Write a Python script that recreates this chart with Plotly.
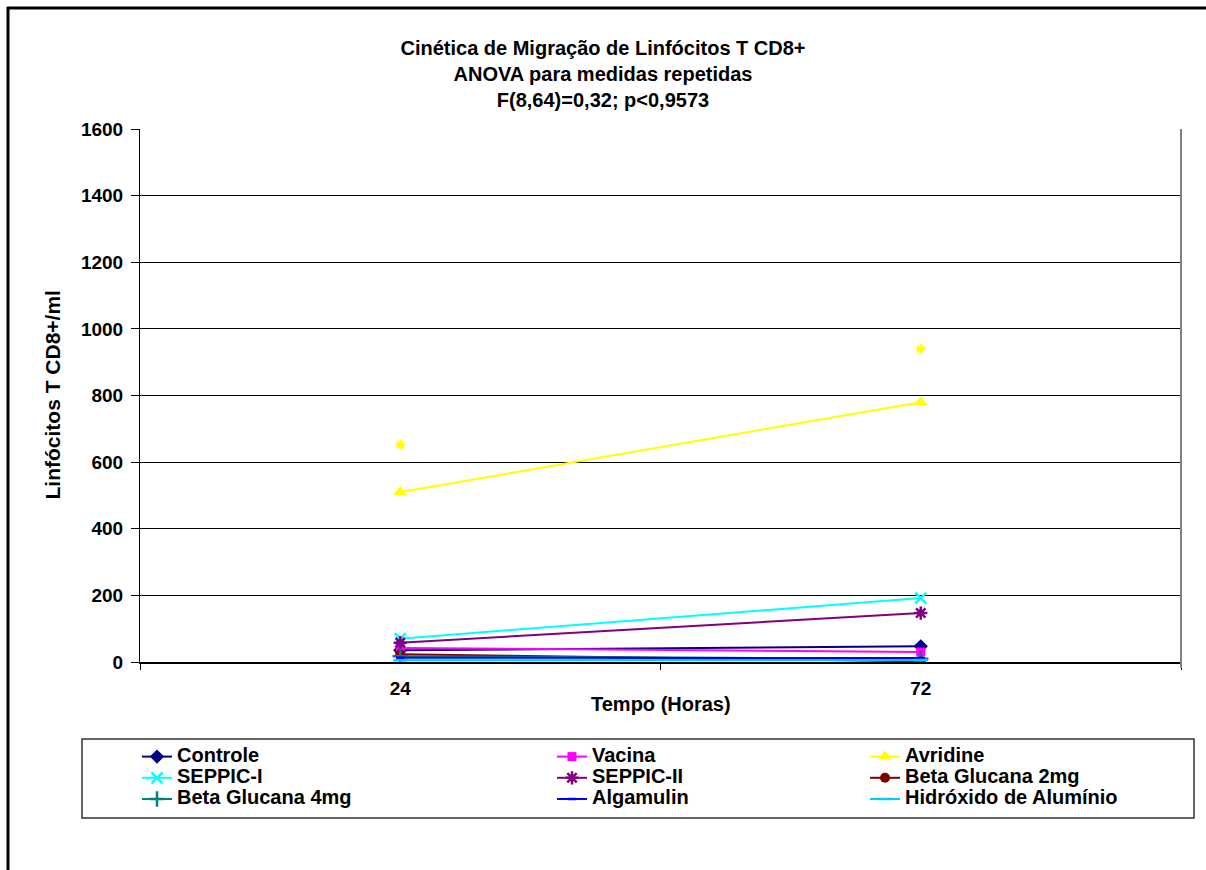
import plotly.graph_objects as go

categories = ["24", "72"]
series_names = ["Controle", "Vacina", "Avridine", "SEPPIC-I", "SEPPIC-II",
                "Beta Glucana 2mg", "Beta Glucana 4mg", "Algamulin", "Hidróxido de Alumínio"]
controle = [35, 47]
vacina = [42, 30]
avridine = [510, 780]
seppic_1 = [70, 192]
seppic_2 = [58, 147]
beta_glucana_2mg = [23, 2]
beta_glucana_4mg = [17, 10]
algamulin = [13, 12]
hidroxido = [5, 6]
avridine_stars = [652, 940]
y_ticks = [0, 200, 400, 600, 800, 1000, 1200, 1400, 1600]

values = [controle, vacina, avridine, seppic_1, seppic_2,
          beta_glucana_2mg, beta_glucana_4mg, algamulin, hidroxido]
colors = ["#000080", "#FF00FF", "#FFFF00", "#00FFFF", "#800080",
          "#800000", "#008080", "#0000FF", "#00CCFF"]
symbols = ["diamond", "square", "triangle-up", "x-thin-open", "asterisk-open",
           "circle", "cross-thin-open", "line-ew-open", "line-ew-open"]
sizes = [11, 9, 12, 11, 11, 10, 11, 6, 10]
legend_ids = ["legend", "legend2", "legend3"] * 3

FONT = "Liberation Sans, Arial, sans-serif"
W, H = 1206, 870
L, R, T, B = 140, 25, 129, 208
PW, PH = W - L - R, H - T - B


def px_x(p):
    return (p - L) / PW


def px_y(p):
    return (H - B - p) / PH


fig = go.Figure()
for name, vals, col, sym, sz, lg in zip(series_names, values, colors, symbols, sizes, legend_ids):
    open_sym = sym.endswith("-open")
    fig.add_trace(go.Scatter(
        x=categories, y=vals, mode="lines+markers",
        name='<span style="font-size:20px">' + name + '</span>',
        legend=lg,
        line=dict(color=col, width=2),
        marker=dict(symbol=sym, size=sz, color=col,
                    line=dict(color=col, width=2.5 if open_sym else 0)),
    ))

fig.add_trace(go.Scatter(
    x=categories, y=avridine_stars, mode="markers", showlegend=False,
    marker=dict(symbol="asterisk-open", size=8, color="#FFFF00",
                line=dict(color="#FFFF00", width=2)),
))

legend_common = dict(orientation="v", xanchor="left", yanchor="top",
                     bgcolor="rgba(0,0,0,0)", borderwidth=0, tracegroupgap=0,
                     font=dict(family=FONT, size=14, color="black", weight="bold"))
fig.update_layout(
    legend=dict(x=px_x(137), y=px_y(741), **legend_common),
    legend2=dict(x=px_x(552), y=px_y(741), **legend_common),
    legend3=dict(x=px_x(865), y=px_y(741), **legend_common),
)

fig.update_layout(
    width=W, height=H,
    margin=dict(l=L, r=R, t=T, b=B, autoexpand=False),
    paper_bgcolor="white", plot_bgcolor="white",
    font=dict(family=FONT, color="black"),
    title=dict(
        text="Cinética de Migração de Linfócitos T CD8+<br>ANOVA para medidas repetidas<br>F(8,64)=0,32; p<0,9573",
        x=0.5, xref="container", xanchor="center",
        y=1 - 55 / H, yref="container", yanchor="middle",
        font=dict(family=FONT, size=20, color="black", weight="bold"),
    ),
    xaxis=dict(
        type="category", range=[-0.5, 1.5], showgrid=False,
        showline=True, linecolor="black", linewidth=2,
        ticks="outside", tickson="boundaries", ticklen=6, tickcolor="black", tickwidth=1,
        tickfont=dict(family=FONT, size=19, color="black", weight="bold"),
        ticklabelstandoff=8,
        zeroline=False,
    ),
    yaxis=dict(
        range=[0, 1600], tickvals=y_ticks, ticktext=[str(v) for v in y_ticks],
        showgrid=True, gridcolor="black", gridwidth=1,
        showline=True, linecolor="black", linewidth=1,
        ticks="outside", ticklen=8, tickcolor="black",
        tickfont=dict(family=FONT, size=19, color="black", weight="bold"),
        ticklabelstandoff=4,
        zeroline=False,
    ),
    annotations=[
        dict(text="Tempo (Horas)", xref="paper", yref="paper", x=0.5, y=px_y(704),
             xanchor="center", yanchor="middle", showarrow=False,
             font=dict(family=FONT, size=20, color="black", weight="bold")),
        dict(text="Linfócitos T CD8+/ml", xref="paper", yref="paper", x=px_x(52), y=0.5,
             xanchor="center", yanchor="middle", showarrow=False, textangle=-90,
             font=dict(family=FONT, size=21, color="black", weight="bold")),
    ],
    shapes=[
        dict(type="line", xref="paper", yref="paper", x0=1, x1=1, y0=px_y(668), y1=1,
             line=dict(color="#808080", width=2)),
        dict(type="rect", xref="paper", yref="paper", x0=px_x(82), x1=px_x(1194),
             y0=px_y(818), y1=px_y(739), line=dict(color="#333333", width=1.5)),
        dict(type="line", xref="paper", yref="paper", x0=px_x(8), x1=px_x(8),
             y0=px_y(870), y1=px_y(7), line=dict(color="black", width=3)),
        dict(type="line", xref="paper", yref="paper", x0=px_x(7), x1=px_x(1206),
             y0=px_y(8), y1=px_y(8), line=dict(color="black", width=3)),
    ],
)

fig.write_html("out.html", config={"displayModeBar": False})
